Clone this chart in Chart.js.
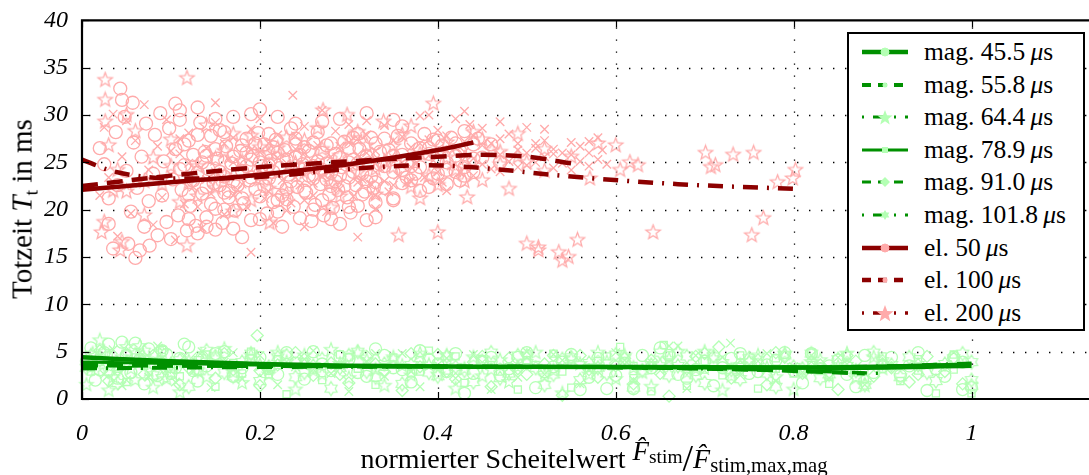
<!DOCTYPE html>
<html><head><meta charset="utf-8">
<script src="https://cdn.jsdelivr.net/npm/chart.js@4.4.0/dist/chart.umd.min.js"></script>
<style>
body{margin:0;background:#fff;overflow:hidden;width:1089px;height:475px;}
#wrap{position:relative;width:1100px;height:475px;}
canvas{position:absolute;left:0;top:0;}
.serif{font-family:'Liberation Serif','Times New Roman',serif;color:#000;}
#ytitle{position:absolute;left:24px;top:209px;transform:translate(-50%,-50%) rotate(-90deg);font-size:29px;white-space:nowrap;}
#xtitle{position:absolute;left:594px;top:441px;transform:translateX(-50%);font-size:28px;line-height:28px;white-space:nowrap;}
#xtitle span, #xtitle sub, #xtitle i{line-height:28px;}
#xtitle sub{vertical-align:-0.18em;}
#legend{position:absolute;left:847px;top:32px;width:234px;height:295px;border:2px solid #000;background:#fff;}
.row{position:absolute;left:13px;height:32px;display:flex;align-items:center;font-size:25.5px;white-space:nowrap;}
.row svg{margin-right:16px;}
sub{font-size:0.68em;vertical-align:-0.3em;}
</style>
</head>
<body>
<div id="wrap">
<canvas id="c" width="1100" height="475"></canvas>
<div id="ytitle" class="serif">Totzeit <i>T</i><sub>t</sub> in ms</div>
<div id="xtitle" class="serif">normierter Scheitelwert&nbsp;<span style="position:relative;top:-8px;font-size:27px"><i>F̂</i><sub style="font-size:0.72em">stim</sub></span><span style="font-size:38px;position:relative;top:3px">/</span><span style="font-size:28px"><i>F̂</i><sub style="font-size:0.74em">stim,max,mag</sub></span></div>
<div id="legend" class="serif"></div>
</div>
<script>
// ---------- axis ticks ----------
const xTicks = [0, 0.2, 0.4, 0.6, 0.8, 1];
const yTicks = [0, 5, 10, 15, 20, 25, 30, 35, 40];

// ---------- series names ----------
const seriesNames = ['mag. 45.5', 'mag. 55.8', 'mag. 64.4', 'mag. 78.9', 'mag. 91.0', 'mag. 101.8', 'el. 50', 'el. 100', 'el. 200'];

// ---------- measured points (x, y pairs) ----------
const el50Pts = [0.02,26.5,0.025,24.8,0.03,18.5,0.03,21.2,0.035,15.9,0.038,28.2,0.04,22.6,0.043,32.8,0.045,31.6,0.048,29.8,0.05,24.1,0.052,16.4,0.055,19.8,0.057,31.3,0.058,27.1,0.06,14.9,0.062,22.3,0.065,15.7,0.067,25.6,0.07,18.2,0.072,29.1,0.075,20.9,0.076,16.2,0.08,23.8,0.082,27.9,0.085,17.3,0.088,30.2,0.09,21.5,0.092,25.1,0.095,18.7,0.098,28.6,0.1,16.9,0.102,23.2,0.105,26.4,0.108,19.4,0.11,29.5,0.112,22.1,0.115,24.7,0.118,17.8,0.12,27.3,0.122,20.4,0.125,25.8,0.128,18.3,0.13,23.9,0.133,29.2,0.135,21.7,0.138,26.1,0.14,19.2,0.142,24.3,0.145,27.8,0.148,22.8,0.15,20.1,0.152,25.4,0.155,28.4,0.158,18.6,0.16,23.5,0.162,26.7,0.165,21.3,0.168,24.9,0.17,29.8,0.172,19.9,0.175,22.6,0.178,26.2,0.18,24.1,0.182,20.7,0.185,27.5,0.188,23.1,0.19,18.9,0.192,25.7,0.195,22.2,0.198,28.1,0.2,21.4,0.202,24.6,0.205,26.9,0.208,19.6,0.21,23.3,0.212,25.2,0.215,20.8,0.218,27.4,0.22,22.9,0.222,24.4,0.225,18.2,0.228,26.3,0.23,21.1,0.232,23.7,0.235,28.6,0.238,20.3,0.24,25.5,0.242,22.4,0.245,19.1,0.248,24.8,0.25,26.6,0.252,21.8,0.255,23.6,0.258,18.8,0.26,27.1,0.262,20.5,0.265,25.1,0.268,22.7,0.27,24.2,0.272,19.4,0.275,26.8,0.278,21.6,0.28,23.9,0.282,20.2,0.285,25.9,0.288,22.1,0.29,18.5,0.292,24.5,0.295,27.2,0.298,21.3,0.3,23.4,0.302,19.7,0.305,25.3,0.308,22.6,0.31,20.4,0.312,26.4,0.315,23.8,0.318,21.9,0.32,18.9,0.322,24.9,0.325,27.6,0.328,22.3,0.33,20.8,0.34,24.6,0.35,21.2,0.36,25.8,0.37,23.1,0.38,26.5,0.39,22.4,0.4,27.3,0.41,24.2,0.42,25.7,0.43,23.6,0.44,26.9,0.36,28.8,0.29,29.6,0.24,29.1,0.19,30.1,0.105,31.2,0.3,20.3,0.33,19.2,0.35,21.0,
  0.11,24.3,0.115,26.9,0.12,21.6,0.125,23.1,0.13,27.9,0.135,25.0,0.14,22.4,0.145,20.6,0.15,26.4,0.155,24.0,0.16,28.2,0.165,22.0,0.17,25.6,0.175,23.8,0.18,21.2,0.185,26.0,0.19,23.4,0.195,27.0,0.2,25.0,0.205,22.5,0.21,28.0,0.215,24.0,0.22,26.0,0.225,21.5,0.23,25.3,0.235,23.0,0.24,27.5,0.245,24.3,0.25,22.0,0.255,26.2,0.26,23.3,0.265,28.2,0.27,21.0,0.275,24.9,0.28,27.0,0.285,23.0,0.29,25.5,0.295,22.5,0.3,26.5,0.305,24.0,0.31,28.0,0.315,21.6,0.32,25.6,0.325,23.5,0.33,27.0,0.335,24.8,0.34,22.3,0.345,26.3,0.35,24.0,0.355,27.8,0.36,22.8,0.365,25.0,0.37,27.0,0.375,23.8,0.38,24.5,0.385,28.0,0.39,25.9,0.395,23.3,0.4,25.0,0.405,26.8,0.41,22.7,0.415,27.6,0.42,24.0,0.425,26.2,0.43,28.3,0.435,25.0,0.44,24.0,0.445,27.5,0.45,25.5,0.46,26.9,0.47,25.0,
  0.12,19.0,0.13,17.5,0.14,18.2,0.15,17.9,0.16,20.0,0.17,18.0,0.18,17.1,0.2,19.0,0.22,19.8,0.26,20.0,0.28,19.0,0.11,30.5,0.13,30.8,0.15,29.6,0.2,30.6,0.22,29.8,0.27,29.3,0.32,30.2,0.35,29.5,
  0.14,25.7,0.16,21.8,0.18,26.8,0.2,23.8,0.22,21.0,0.24,26.9,0.26,24.6,0.28,22.5,0.3,25.0,0.32,23.0,0.34,27.5,0.36,24.2,0.38,22.0,0.4,23.8,0.42,27.0,0.44,25.4,0.17,23.0,0.19,25.3,0.21,24.7,0.23,22.2,0.25,24.3,0.27,26.0,0.29,23.6,0.31,24.9,0.33,22.9,0.35,25.7,0.37,24.6,0.39,26.5,0.41,25.0,0.43,24.5,0.155,22.6,0.185,24.6,0.215,26.6,0.245,25.8,0.275,23.2,0.305,27.6,0.335,26.1,0.365,23.4,0.395,27.4,0.425,23.1];
const el100Pts = [0.02,21.5,0.025,28.7,0.03,23.4,0.035,30.1,0.04,17.2,0.045,25.6,0.05,29.4,0.055,19.6,0.06,27.3,0.065,22.8,0.07,31.1,0.075,24.2,0.08,18.4,0.085,26.7,0.09,21.3,0.095,29.5,0.1,23.7,0.105,16.8,0.11,25.9,0.115,20.6,0.12,28.1,0.125,22.4,0.13,24.8,0.135,18.1,0.14,26.5,0.145,21.7,0.15,29.2,0.155,23.3,0.16,19.5,0.165,25.3,0.17,27.6,0.175,22.1,0.18,24.5,0.185,20.3,0.19,28.5,0.195,23.8,0.2,26.1,0.205,21.2,0.21,25.2,0.215,18.6,0.22,27.9,0.225,23.1,0.23,24.9,0.235,20.7,0.237,32.1,0.24,26.4,0.245,22.6,0.25,28.8,0.255,24.1,0.26,21.5,0.265,26.8,0.27,23.5,0.275,19.8,0.28,25.6,0.285,28.3,0.29,22.2,0.295,24.7,0.3,27.1,0.305,21.4,0.31,25.8,0.315,23.2,0.32,29.4,0.325,22.7,0.33,26.2,0.335,24.4,0.34,28.9,0.345,21.9,0.35,25.5,0.355,23.6,0.36,27.7,0.365,22.8,0.37,26.6,0.375,24.8,0.38,29.9,0.385,23.4,0.39,27.4,0.395,25.2,0.4,28.4,0.405,22.9,0.41,26.3,0.415,24.6,0.42,29.6,0.425,23.9,0.43,27.2,0.436,29.0,0.44,25.4,0.45,26.8,0.46,24.3,0.47,27.5,0.48,25.1,0.49,26.3,0.5,24.7,0.51,27.0,0.52,25.6,0.53,26.4,0.54,24.9,0.55,25.8,0.56,26.7,0.57,24.6,0.58,25.3,0.25,18.2,0.31,17.1,0.19,15.5,0.33,20.1,0.21,21.9,
  0.1,26.2,0.12,24.9,0.14,23.2,0.16,27.0,0.18,22.7,0.2,24.2,0.22,25.5,0.24,23.4,0.26,25.0,0.28,23.7,0.3,24.5,0.32,26.0,0.34,23.0,0.36,25.0,0.38,27.0,0.4,24.0,0.42,26.5,0.44,27.8,0.45,28.6,0.46,27.0,0.47,25.8,0.48,28.0,0.49,24.5,0.5,26.0,0.51,25.0,0.52,27.3,0.53,24.4,0.54,26.0,0.55,27.1,0.56,25.1,0.57,26.0,0.58,27.6,0.585,26.3,0.59,24.8,0.47,29.3,0.5,28.7,0.52,28.5,0.43,30.4,0.39,30.0,0.3,29.0,0.27,30.5,0.2,29.6,0.15,31.3,0.11,27.5,0.13,20.3,0.17,21.5,0.23,19.9,0.26,22.8,0.33,21.5,0.37,23.0,0.41,22.0,0.44,23.6,0.35,27.3,0.31,22.9,0.29,26.7,0.25,21.0,0.21,27.0,
  0.15,24.0,0.19,26.3,0.23,25.9,0.27,24.3,0.31,27.5,0.35,22.6,0.39,25.7,0.43,26.1,0.47,24.0,0.51,26.5,0.55,24.2,0.17,25.0,0.21,23.5,0.25,26.0,0.29,24.9,0.33,25.3,0.37,24.5,0.41,27.8,0.45,24.8,0.49,27.0,0.53,25.9,0.57,27.2,0.24,27.8,0.32,27.9,0.4,26.0];
const el200Pts = [0.026,33.7,0.026,31.6,0.026,29.3,0.022,17.6,0.025,18.7,0.043,15.7,0.045,16.6,0.03,26.8,0.04,24.2,0.05,21.9,0.06,28.3,0.07,19.4,0.08,25.5,0.09,22.7,0.118,33.9,0.118,16.2,0.1,27.4,0.11,20.8,0.13,24.6,0.14,28.9,0.15,22.3,0.16,26.2,0.17,19.8,0.18,25.1,0.19,27.8,0.2,23.2,0.211,18.6,0.22,26.5,0.23,21.7,0.24,24.9,0.25,27.3,0.265,28.6,0.271,30.5,0.28,22.8,0.29,25.7,0.298,30.0,0.31,23.9,0.32,26.8,0.33,21.6,0.339,29.3,0.35,24.5,0.356,17.3,0.36,27.9,0.37,22.4,0.38,25.9,0.395,31.2,0.4,22.6,0.4,17.6,0.41,27.1,0.42,24.2,0.433,21.3,0.44,28.2,0.45,23.1,0.461,26.3,0.47,24.8,0.48,22.2,0.49,25.6,0.5,16.4,0.513,16.0,0.513,15.7,0.52,24.1,0.536,15.5,0.54,14.6,0.547,15.0,0.557,16.8,0.571,23.3,0.605,24.2,0.616,25.0,0.625,24.7,0.642,17.6,0.701,26.0,0.707,24.5,0.712,24.7,0.732,25.8,0.753,17.3,0.755,26.0,0.766,19.1,0.782,22.9,0.799,23.3,0.802,24.2,0.43,25.4,0.3,27.5,0.27,24.1,0.21,25.9,0.12,22.9,0.34,25.1,
  0.1,24.6,0.13,21.4,0.15,25.4,0.17,28.0,0.19,21.0,0.21,22.2,0.23,27.6,0.25,23.9,0.27,26.4,0.29,21.4,0.31,28.2,0.33,24.3,0.35,26.7,0.37,28.8,0.39,23.6,0.41,25.5,0.43,23.0,0.45,27.4,0.47,26.1,0.49,28.0,0.5,25.0,0.52,26.4,0.55,25.6,0.58,27.0,0.6,26.8,0.38,21.2,0.28,20.2,0.2,26.6,0.16,23.6,0.07,23.0,0.05,30.0,0.035,22.0];
const mag455Pts = [0.01,5.4,0.02,3.1,0.03,5.8,0.04,2.2,0.05,4.6,0.06,5.9,0.07,1.6,0.08,3.8,0.09,5.1,0.1,2.7,0.11,4.3,0.12,5.5,0.13,1.9,0.14,3.5,0.15,4.8,0.17,2.4,0.19,4.1,0.21,3.2,0.23,4.9,0.25,2.1,0.27,3.7,0.29,4.5,0.31,2.8,0.33,5.3,0.35,3.3,0.37,1.8,0.39,4.2,0.41,2.9,0.43,0.6,0.45,3.9,0.47,2.5,0.49,4.4,0.51,1.2,0.53,3.4,0.55,4.7,0.57,2.3,0.59,1.1,0.61,3.8,0.63,4.6,0.65,5.4,0.67,2.6,0.69,3.1,0.71,1.4,0.73,4.3,0.75,2.7,0.77,3.6,0.79,4.9,0.81,1.7,0.83,3.2,0.85,4.1,0.87,1.3,0.89,2.8,0.91,4.4,0.93,3.5,0.95,0.9,0.97,2.4,0.99,3.9,1.0,1.2,
  0.005,4.0,0.015,2.0,0.025,4.9,0.035,3.6,0.045,6.0,0.055,2.8,0.065,4.2,0.075,5.3,0.085,2.5,0.095,4.7,0.105,3.3,0.115,5.8,0.125,3.0,0.135,4.4,0.16,5.0,0.18,3.3,0.2,4.4,0.22,2.6,0.24,3.8,0.26,5.0,0.28,3.0,0.3,4.2,0.32,2.4,0.34,4.6,0.36,3.1,0.38,5.1,0.4,3.7,0.42,4.8,0.44,2.7,0.46,4.4,0.48,3.2,0.5,4.9,0.52,2.9,0.54,3.9,0.56,1.0,0.58,4.3,0.6,2.5,0.62,1.1,0.64,3.3,0.66,4.6,0.68,2.2,0.7,4.0,0.72,3.3,0.74,4.8,0.76,2.9,0.78,4.1,0.8,3.0,0.82,4.8,0.84,3.5,0.86,2.6,0.88,4.6,0.9,3.4,0.92,2.5,0.94,4.9,0.96,3.2,0.98,4.4,0.99,1.0];
const mag558Pts = [0.015,4.2,0.025,2.6,0.035,5.2,0.045,1.4,0.055,3.7,0.065,4.9,0.075,2.3,0.085,5.6,0.095,3.1,0.105,1.8,0.115,4.5,0.125,2.9,0.135,5.0,0.145,1.2,0.16,3.9,0.18,2.1,0.2,4.6,0.22,1.5,0.24,3.4,0.26,5.1,0.28,2.7,0.3,0.8,0.32,4.0,0.34,2.4,0.36,4.8,0.38,1.3,0.4,3.6,0.42,2.2,0.44,4.7,0.46,1.0,0.48,3.3,0.5,5.0,0.52,2.6,0.54,4.1,0.56,1.6,0.58,3.5,0.6,4.9,0.62,2.0,0.64,3.9,0.66,5.6,0.67,5.6,0.68,1.1,0.7,3.0,0.72,4.4,0.729,5.9,0.74,2.5,0.76,4.0,0.78,1.9,0.8,3.4,0.82,4.6,0.84,2.2,0.86,3.7,0.88,1.5,
  0.01,3.3,0.05,2.0,0.09,4.3,0.13,3.7,0.17,4.9,0.21,2.9,0.25,4.2,0.29,3.6,0.33,4.8,0.37,2.9,0.41,4.3,0.45,3.5,0.49,2.3,0.53,4.7,0.57,3.1,0.61,4.1,0.65,3.0,0.69,4.6,0.73,3.4,0.77,4.8,0.81,2.8,0.85,4.4,0.87,3.2];
const mag644Pts = [0.005,1.5,0.012,4.8,0.02,6.2,0.03,0.9,0.04,3.4,0.05,5.5,0.06,2.0,0.07,4.3,0.08,1.2,0.09,5.0,0.1,2.8,0.11,0.7,0.12,4.0,0.14,2.3,0.16,5.3,0.18,1.7,0.2,3.6,0.22,4.9,0.24,1.0,0.26,3.0,0.28,5.2,0.3,2.2,0.32,4.1,0.34,1.4,0.36,3.5,0.38,4.8,0.4,2.6,0.42,1.1,0.44,4.4,0.46,3.1,0.48,1.8,0.5,4.6,0.52,2.4,0.54,0.6,0.56,3.7,0.58,4.9,0.6,2.1,0.62,3.3,0.64,1.3,0.66,4.2,0.68,2.8,0.7,5.0,0.72,0.9,0.74,3.6,0.76,4.6,0.78,2.3,0.8,1.0,0.82,3.9,0.84,2.6,0.86,4.8,0.88,1.4,0.9,3.2,
  0.015,3.0,0.025,5.0,0.035,2.3,0.045,4.4,0.055,3.2,0.065,5.6,0.075,3.0,0.085,4.0,0.095,2.1,0.13,3.0,0.15,4.3,0.17,2.8,0.19,4.6,0.21,2.6,0.23,3.9,0.25,4.6,0.27,2.6,0.29,3.7,0.31,4.9,0.33,3.1,0.35,4.4,0.37,2.5,0.39,3.6,0.41,4.6,0.43,3.2,0.45,2.4,0.47,4.1,0.49,3.4,0.51,4.9,0.53,3.0,0.55,4.2,0.57,2.6,0.59,3.9,0.61,4.6,0.63,2.8,0.65,3.6,0.67,5.0,0.69,3.2,0.71,4.3,0.73,2.4,0.75,4.0,0.77,3.3,0.79,4.8,0.81,2.8,0.83,4.1,0.85,3.4,0.87,2.2,0.89,4.4];
const mag789Pts = [0.01,2.9,0.03,4.6,0.05,1.8,0.07,3.5,0.09,5.2,0.11,2.4,0.13,4.1,0.15,1.3,0.17,3.8,0.19,5.0,0.21,2.6,0.23,0.5,0.25,3.9,0.27,2.0,0.29,4.7,0.31,3.2,0.33,1.5,0.35,4.4,0.37,2.7,0.39,5.1,0.41,3.0,0.43,1.7,0.45,4.2,0.47,2.9,0.49,1.0,0.51,3.6,0.53,4.8,0.55,1.2,0.57,3.3,0.59,4.5,0.605,5.5,0.62,2.2,0.64,0.8,0.654,5.7,0.66,3.7,0.68,1.4,0.7,4.0,0.72,2.5,0.74,3.4,0.76,1.1,0.78,4.3,0.8,2.7,0.82,3.6,0.84,1.6,0.86,4.6,0.88,2.1,0.9,3.8,0.92,1.9,0.94,4.2,0.96,0.6,0.98,3.1,1.0,0.6,
  0.02,3.9,0.06,4.4,0.1,3.2,0.14,4.7,0.18,2.7,0.22,4.2,0.26,3.1,0.3,4.4,0.34,3.4,0.38,2.9,0.42,4.5,0.46,3.6,0.5,4.1,0.54,2.9,0.58,4.0,0.62,3.5,0.66,4.6,0.7,3.1,0.74,4.6,0.78,3.2,0.82,4.9,0.86,3.1,0.9,4.5,0.94,3.0,0.98,4.7];
const mag910Pts = [0.01,3.7,0.03,1.9,0.05,4.8,0.07,2.6,0.09,3.9,0.11,1.5,0.13,4.4,0.15,2.2,0.17,3.1,0.197,6.7,0.2,1.4,0.22,3.6,0.24,4.9,0.26,2.5,0.28,3.8,0.3,1.7,0.32,4.5,0.34,2.9,0.36,0.9,0.38,3.4,0.4,4.7,0.42,2.1,0.44,3.9,0.46,1.3,0.48,4.3,0.5,2.6,0.52,3.7,0.54,0.4,0.56,4.6,0.58,2.3,0.6,3.5,0.62,1.6,0.64,4.1,0.66,0.3,0.68,3.2,0.7,4.8,0.716,5.5,0.73,2.2,0.75,3.9,0.77,1.5,0.79,4.4,0.81,2.7,0.83,3.6,0.85,1.0,0.87,4.0,0.89,2.4,0.91,3.3,0.93,1.8,0.95,4.5,0.97,2.9,0.99,1.6,
  0.02,5.1,0.04,3.1,0.08,4.6,0.12,3.3,0.16,4.8,0.2,3.0,0.25,4.2,0.29,2.6,0.33,3.7,0.37,4.8,0.41,2.9,0.45,4.5,0.49,3.2,0.53,4.6,0.57,3.1,0.61,4.3,0.65,2.7,0.69,4.5,0.74,3.4,0.78,4.9,0.82,3.3,0.86,4.6,0.9,3.7,0.94,2.6,0.98,4.3];
const mag1018Pts = [0.005,3.3,0.02,4.1,0.04,1.7,0.06,4.7,0.08,2.5,0.1,3.7,0.12,1.3,0.14,5.1,0.16,2.8,0.18,3.9,0.2,1.9,0.22,4.4,0.24,2.3,0.26,3.5,0.28,1.1,0.3,4.6,0.32,2.9,0.34,3.7,0.36,1.6,0.38,4.3,0.4,2.4,0.42,3.4,0.44,1.8,0.46,4.9,0.48,2.7,0.5,3.8,0.52,1.5,0.54,4.2,0.56,2.0,0.58,3.3,0.6,4.7,0.62,1.2,0.64,3.6,0.66,2.5,0.68,4.5,0.7,1.7,0.72,3.8,0.74,2.1,0.76,4.1,0.78,1.3,0.8,3.4,0.82,4.8,0.84,2.6,0.86,3.5,0.88,1.5,0.9,4.0,0.92,2.3,0.94,3.6,0.96,1.9,0.98,4.3,1.0,2.0,1.0,3.9,
  0.01,4.6,0.03,2.9,0.05,3.9,0.07,5.0,0.09,2.2,0.11,4.1,0.13,3.0,0.15,4.5,0.17,2.4,0.19,4.8,0.21,3.4,0.23,4.6,0.25,2.8,0.27,4.2,0.29,3.3,0.31,5.0,0.33,2.3,0.35,4.1,0.37,3.6,0.39,2.8,0.41,4.5,0.43,3.0,0.45,4.0,0.47,2.2,0.49,4.6,0.51,3.3,0.53,2.6,0.55,4.4,0.57,3.8,0.59,2.7,0.61,4.3,0.63,3.0,0.65,4.9,0.67,3.5,0.69,2.5,0.71,4.5,0.73,3.1,0.75,4.3,0.77,2.7,0.79,4.6,0.81,3.2,0.83,2.2,0.85,4.2,0.87,3.0,0.89,4.9,0.91,3.6,0.93,4.4,0.95,2.8,0.97,3.7,0.99,4.8,1.0,1.4];

// ---------- fitted curves ----------
const el50FitX = [0, 0.1, 0.2, 0.3, 0.4, 0.44];
const el50FitY = [22.1, 22.9, 23.7, 24.8, 26.3, 27.1];
const el100FitX = [0, 0.1, 0.2, 0.3, 0.4, 0.45, 0.5, 0.55];
const el100FitY = [22.5, 23.6, 24.5, 25.1, 25.6, 25.8, 25.6, 24.9];
const el200FitX = [0, 0.03, 0.06, 0.1, 0.15, 0.22, 0.3, 0.39, 0.45, 0.55, 0.67, 0.8];
const el200FitY = [25.3, 24.2, 23.6, 23.3, 23.3, 23.6, 24.3, 24.7, 24.4, 23.5, 22.7, 22.2];
const mag455FitX = [0, 0.1, 0.2, 0.3, 0.5, 0.7, 0.85, 1.0];
const mag455FitY = [4.4, 4.0, 3.7, 3.5, 3.4, 3.35, 3.3, 3.5];
const mag558FitX = [0, 0.2, 0.4, 0.6, 0.75, 0.88];
const mag558FitY = [3.6, 3.5, 3.45, 3.35, 3.1, 2.7];
const mag644FitX = [0, 0.2, 0.5, 0.7, 0.8, 0.9];
const mag644FitY = [3.2, 3.35, 3.4, 3.2, 3.0, 2.7];
const mag789FitX = [0, 0.2, 0.5, 0.8, 1.0];
const mag789FitY = [3.9, 3.6, 3.4, 3.4, 3.7];
const mag910FitX = [0, 0.3, 0.6, 0.8, 0.87];
const mag910FitY = [3.5, 3.4, 3.3, 3.0, 2.8];
const mag1018FitX = [0, 0.4, 0.7, 0.9, 1.0];
const mag1018FitY = [3.3, 3.45, 3.35, 3.5, 3.8];

// ---------- styling ----------
const RED_LINE = '#8c0000', RED_MK = '#ffaaaa', GRN_LINE = '#009000', GRN_MK = '#b4ffb4';
const DASH = [16, 9], DASHDOT = [15, 9, 2, 9];
const FONT = "'Liberation Serif','Times New Roman',serif";

function pairs(a){ const o=[]; for(let i=0;i<a.length;i+=2) o.push({x:a[i], y:a[i+1]}); return o; }
function zip(xs, ys){ return xs.map((x,i)=>({x, y:ys[i]})); }
function starImg(color, r, n, ratio){
  const s = Math.ceil(2*r+4), cv = document.createElement('canvas'); cv.width = s; cv.height = s;
  const g = cv.getContext('2d'); g.strokeStyle = color; g.lineWidth = 1.25; g.beginPath();
  for(let i=0;i<2*n;i++){ const rr = i%2===0 ? r : r*ratio; const a = -Math.PI/2 + i*Math.PI/n;
    const px = s/2 + rr*Math.cos(a), py = s/2 + rr*Math.sin(a); if(i===0) g.moveTo(px,py); else g.lineTo(px,py); }
  g.closePath(); g.stroke(); return cv;
}
const redStar = starImg(RED_MK, 7.5, 5, 0.42), grnStar = starImg(GRN_MK, 7, 5, 0.42), grnHex = starImg(GRN_MK, 7, 6, 0.6);

function scat(pts, color, style, r){
  return {type:'scatter', data:pairs(pts), showLine:false, pointStyle:style, pointRadius:r, pointBorderColor:color,
    pointBackgroundColor:'rgba(0,0,0,0)', pointBorderWidth:1.3, borderColor:color, order:2};
}
function fit(xs, ys, color, dash, w){
  return {type:'line', data:zip(xs, ys), showLine:true, pointRadius:0, borderColor:color, borderWidth:w,
    borderDash:dash, tension:0.4, cubicInterpolationMode:'monotone', fill:false, order:1};
}

const datasets = [
  scat(mag455Pts, GRN_MK, 'circle', 6), scat(mag558Pts, GRN_MK, 'crossRot', 6), scat(mag644Pts, GRN_MK, grnStar, 7),
  scat(mag789Pts, GRN_MK, 'rect', 5), scat(mag910Pts, GRN_MK, 'rectRot', 6), scat(mag1018Pts, GRN_MK, grnHex, 7),
  scat(el50Pts, RED_MK, 'circle', 6.5), scat(el100Pts, RED_MK, 'crossRot', 6), scat(el200Pts, RED_MK, redStar, 8),
  fit(mag455FitX, mag455FitY, GRN_LINE, [], 4.5), fit(mag558FitX, mag558FitY, GRN_LINE, DASH, 4),
  fit(mag644FitX, mag644FitY, GRN_LINE, DASHDOT, 3.5), fit(mag789FitX, mag789FitY, GRN_LINE, [], 3),
  fit(mag910FitX, mag910FitY, GRN_LINE, DASH, 3), fit(mag1018FitX, mag1018FitY, GRN_LINE, DASHDOT, 3),
  fit(el50FitX, el50FitY, RED_LINE, [], 4.5), fit(el100FitX, el100FitY, RED_LINE, DASH, 4.5),
  fit(el200FitX, el200FitY, RED_LINE, DASHDOT, 4.5)
];

const frame = {
  id:'frame',
  beforeDatasetsDraw(c){
    const {ctx, chartArea:a, scales:{x, y}} = c; ctx.save();
    ctx.strokeStyle = '#000'; ctx.lineWidth = 1.3; ctx.setLineDash([1.4, 10.6]);
    yTicks.filter(v=>v>0 && v<40).forEach(v=>{ const p = Math.round(y.getPixelForValue(v))+0.5;
      ctx.beginPath(); ctx.moveTo(a.left+7, p); ctx.lineTo(a.right, p); ctx.stroke(); });
    xTicks.filter(v=>v>0).forEach(v=>{ const p = Math.round(x.getPixelForValue(v))+0.5;
      ctx.beginPath(); ctx.moveTo(p, a.top+7); ctx.lineTo(p, a.bottom-7); ctx.stroke(); });
    ctx.restore();
  },
  afterDatasetsDraw(c){
    const {ctx, chartArea:a, scales:{x, y}} = c; ctx.save();
    ctx.strokeStyle = '#000'; ctx.setLineDash([]); ctx.lineWidth = 1.2;
    yTicks.forEach(v=>{ const p = Math.round(y.getPixelForValue(v))+0.5;
      ctx.beginPath(); ctx.moveTo(a.left, p); ctx.lineTo(a.left+7, p); ctx.stroke(); });
    xTicks.forEach(v=>{ const p = Math.round(x.getPixelForValue(v))+0.5;
      ctx.beginPath(); ctx.moveTo(p, a.bottom); ctx.lineTo(p, a.bottom-7); ctx.moveTo(p, a.top); ctx.lineTo(p, a.top+7); ctx.stroke(); });
    ctx.lineWidth = 2.2; ctx.beginPath();
    ctx.moveTo(a.right, a.top); ctx.lineTo(a.left, a.top); ctx.lineTo(a.left, a.bottom); ctx.lineTo(a.right, a.bottom); ctx.stroke();
    ctx.restore();
  }
};

new Chart(document.getElementById('c'), {
  type:'scatter',
  data:{datasets},
  options:{
    responsive:false, animation:false, clip:false,
    layout:{padding:{top:20, left:0, right:0, bottom:0}},
    plugins:{legend:{display:false}, tooltip:{enabled:false}},
    scales:{
      x:{type:'linear', min:0, max:1.134,
        afterBuildTicks:s=>{ s.ticks = xTicks.map(v=>({value:v})); },
        afterFit:s=>{ s.height = 76; },
        grid:{display:false}, border:{display:false},
        ticks:{color:'#000', padding:12, maxRotation:0, font:{family:FONT, size:24, style:'italic'},
          callback:v=> v===0 ? '0' : v===1 ? '1' : v.toFixed(1)}},
      y:{type:'linear', min:0, max:40,
        afterBuildTicks:s=>{ s.ticks = yTicks.map(v=>({value:v})); },
        afterFit:s=>{ s.width = 82; },
        grid:{display:false}, border:{display:false},
        ticks:{color:'#000', padding:6, font:{family:FONT, size:24, style:'italic'}}}
    }
  },
  plugins:[frame]
});

// ---------- legend (HTML) ----------
const legendSpec = [
  {c:GRN_LINE, m:GRN_MK, d:'', w:4.5, mk:'circle'}, {c:GRN_LINE, m:GRN_MK, d:'9 7', w:4, mk:'dot'},
  {c:GRN_LINE, m:GRN_MK, d:'2 9 12 9', w:3, mk:'star'}, {c:GRN_LINE, m:GRN_MK, d:'', w:3, mk:'square'},
  {c:GRN_LINE, m:GRN_MK, d:'9 7', w:3, mk:'diamond'}, {c:GRN_LINE, m:GRN_MK, d:'2 9 12 9', w:3, mk:'hex'},
  {c:RED_LINE, m:RED_MK, d:'', w:4.5, mk:'circle'}, {c:RED_LINE, m:RED_MK, d:'9 7', w:4.5, mk:'dot'},
  {c:RED_LINE, m:RED_MK, d:'2 9 12 9', w:3.5, mk:'bigstar'}
];
function starPath(cx, cy, r, n, ratio){ let p=''; for(let i=0;i<2*n;i++){ const rr=i%2===0?r:r*ratio; const a=-Math.PI/2+i*Math.PI/n;
  p += (i===0?'M':'L') + (cx+rr*Math.cos(a)).toFixed(2) + ' ' + (cy+rr*Math.sin(a)).toFixed(2); } return p+'Z'; }
const lg = document.getElementById('legend');
legendSpec.forEach((s, i)=>{
  let mk = '';
  if(s.mk==='circle') mk = `<circle cx="23" cy="16" r="4" fill="${s.m}" stroke="${s.m}"/>`;
  else if(s.mk==='dot') mk = `<circle cx="23" cy="16" r="2.5" fill="${s.m}"/>`;
  else if(s.mk==='square') mk = `<rect x="20" y="13" width="6" height="6" fill="${s.m}"/>`;
  else if(s.mk==='diamond') mk = `<path d="M23 11L28 16L23 21L18 16Z" fill="${s.m}"/>`;
  else if(s.mk==='star') mk = `<path d="${starPath(23,17,8,5,0.42)}" fill="${s.m}"/>`;
  else if(s.mk==='bigstar') mk = `<path d="${starPath(23,17,9,5,0.42)}" fill="${s.m}"/>`;
  else if(s.mk==='hex') mk = `<path d="${starPath(23,16,5,6,0.6)}" fill="${s.m}"/>`;
  const row = document.createElement('div'); row.className = 'row'; row.style.top = (2 + i*32.6) + 'px';
  row.innerHTML = `<svg width="46" height="32"><line x1="0" y1="16" x2="46" y2="16" stroke="${s.c}" stroke-width="${s.w}" stroke-dasharray="${s.d}"/>${mk}</svg><span>${seriesNames[i]}&#8201;<i>μ</i>s</span>`;
  lg.appendChild(row);
});
</script>
</body></html>
